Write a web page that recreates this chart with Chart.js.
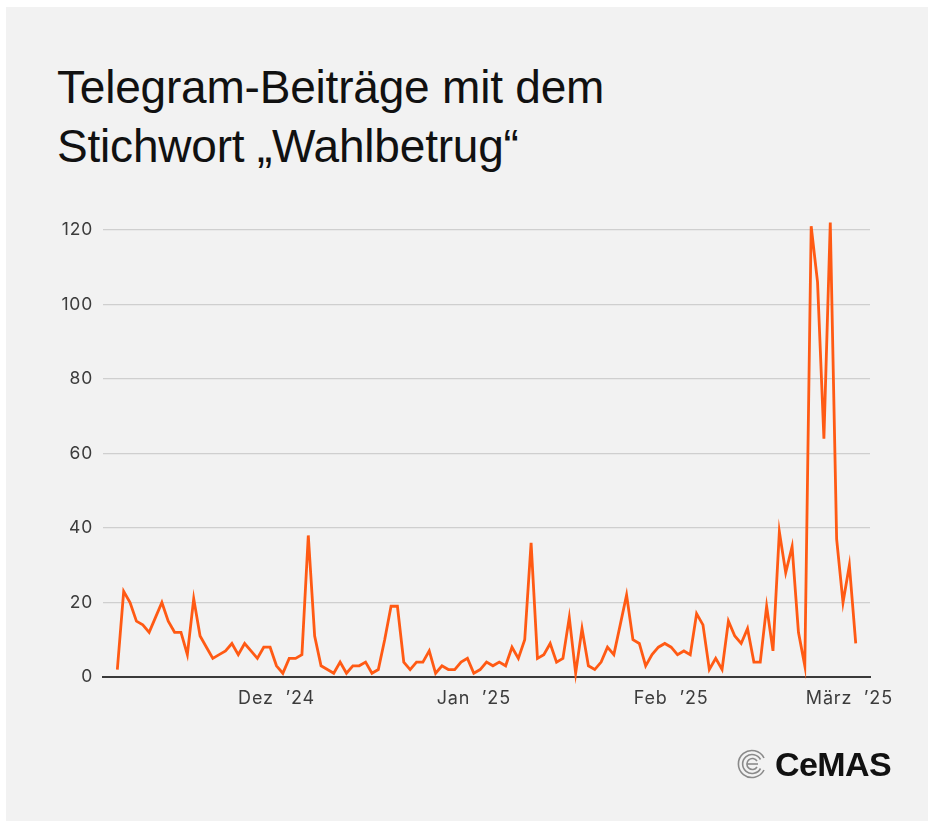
<!DOCTYPE html>
<html>
<head>
<meta charset="utf-8">
<script src="https://cdn.jsdelivr.net/npm/chart.js@4"></script>
<style>
  html, body { margin:0; padding:0; background:#ffffff; }
  #panel { position:absolute; left:6px; top:7px; width:922px; height:814px; background:#f2f2f2; }
  #title { position:absolute; left:57px; top:58px; font-family:"Liberation Sans", Arial, sans-serif; font-size:46px; line-height:59px; color:#111; font-weight:normal; letter-spacing:-0.2px; }
  #chartwrap { position:absolute; left:0; top:0; width:933px; height:827px; }
  #logo { position:absolute; left:737px; top:744px; height:40px; display:flex; align-items:center; }
  #logo span { font-family:"Liberation Sans", Arial, sans-serif; font-weight:bold; font-size:34px; color:#111; letter-spacing:-0.6px; margin-left:8px; }
</style>
</head>
<body>
<div id="panel"></div>
<div id="title">Telegram-Beiträge mit dem<br>Stichwort „Wahlbetrug“</div>
<div id="chartwrap"><canvas id="c" width="933" height="827"></canvas></div>
<div id="logo">
  <svg width="30" height="30" viewBox="0 0 30 30">
    <g fill="none" stroke="#8a8a8a" stroke-width="1.6">
      <path d="M 27 9 A 13.5 13.5 0 1 0 27 21"/>
      <path d="M 23.5 10.5 A 9.5 9.5 0 1 0 23.5 19.5"/>
      <path d="M 20 12 A 5.5 5.5 0 1 0 20 18"/>
      <path d="M 10 15 L 21 15"/>
    </g>
  </svg>
  <span>CeMAS</span>
</div>
<script>
// ---- data ----
const startDate = '2024-11-06';
const posts = [
  2, 23, 20, 15, 14, 12, 16, 20, 15, 12,
  12, 6, 21, 11, 8, 5, 6, 7, 9, 6,
  9, 7, 5, 8, 8, 3, 1, 5, 5, 6,
  38, 11, 3, 2, 1, 4, 1, 3, 3, 4,
  1, 2, 10, 19, 19, 4, 2, 4, 4, 7,
  1, 3, 2, 2, 4, 5, 1, 2, 4, 3,
  4, 3, 8, 5, 10, 36, 5, 6, 9, 4,
  5, 16, 1, 13, 3, 2, 4, 8, 6, 14,
  22, 10, 9, 3, 6, 8, 9, 8, 6, 7,
  6, 17, 14, 2, 5, 2, 15, 11, 9, 13,
  4, 4, 19, 7, 39, 28, 35, 12, 3, 121,
  106, 64, 122, 37, 20, 30, 9
];
const tickDates = ['2024-12-01', '2025-01-01', '2025-02-01', '2025-03-01'];
const tickLabels = ['Dez  ’24', 'Jan  ’25', 'Feb  ’25', 'März  ’25'];
const yTicks = [0, 20, 40, 60, 80, 100, 120];

// ---- derived ----
const DAY = 86400000;
const t0 = Date.parse(startDate + 'T00:00:00Z');
const dayIndex = d => Math.round((Date.parse(d + 'T00:00:00Z') - t0) / DAY);
const points = posts.map((v, i) => ({ x: i, y: v }));
const tickPos = tickDates.map(dayIndex);

const spacingPlugin = {
  id: 'spacing',
  beforeDraw(chart) { chart.ctx.letterSpacing = '0.8px'; }
};

new Chart(document.getElementById('c'), {
  type: 'line',
  data: {
    datasets: [{
      data: points,
      borderColor: '#ff5a14',
      borderWidth: 2.8,
      pointRadius: 0,
      tension: 0,
      fill: false,
      clip: false,
      borderJoinStyle: 'miter'
    }]
  },
  options: {
    responsive: false,
    animation: false,
    devicePixelRatio: 1,
    layout: { padding: { left: 58, right: 63, top: 230, bottom: 100 } },
    plugins: { legend: { display: false }, tooltip: { enabled: false }, title: { display: false } },
    scales: {
      x: {
        type: 'linear',
        min: -2.25,
        max: 118.24,
        afterBuildTicks: s => { s.ticks = tickPos.map(v => ({ value: v })); },
        afterFit: s => { s.height = 50; },
        ticks: {
          autoSkip: false,
          maxRotation: 0,
          padding: 11,
          color: '#3c3c3c',
          font: { family: 'Inter, "Liberation Sans", sans-serif', size: 18 },
          callback: v => { const k = tickPos.indexOf(v); return k >= 0 ? tickLabels[k] : ''; }
        },
        grid: { display: false, drawTicks: false },
        border: { display: true, color: '#3a3a3a', width: 2 }
      },
      y: {
        min: 0,
        max: 120,
        afterBuildTicks: s => { s.ticks = yTicks.map(v => ({ value: v })); },
        afterFit: s => { s.width = 45; },
        ticks: {
          padding: 10,
          color: '#3c3c3c',
          font: { family: 'Inter, "Liberation Sans", sans-serif', size: 17.5 }
        },
        grid: {
          drawTicks: false,
          color: c => c.tick && c.tick.value === 0 ? '#3a3a3a' : '#cfcfcf',
          lineWidth: c => c.tick && c.tick.value === 0 ? 2 : 1.2
        },
        border: { display: false }
      }
    }
  },
  plugins: [spacingPlugin]
});
</script>
</body>
</html>
